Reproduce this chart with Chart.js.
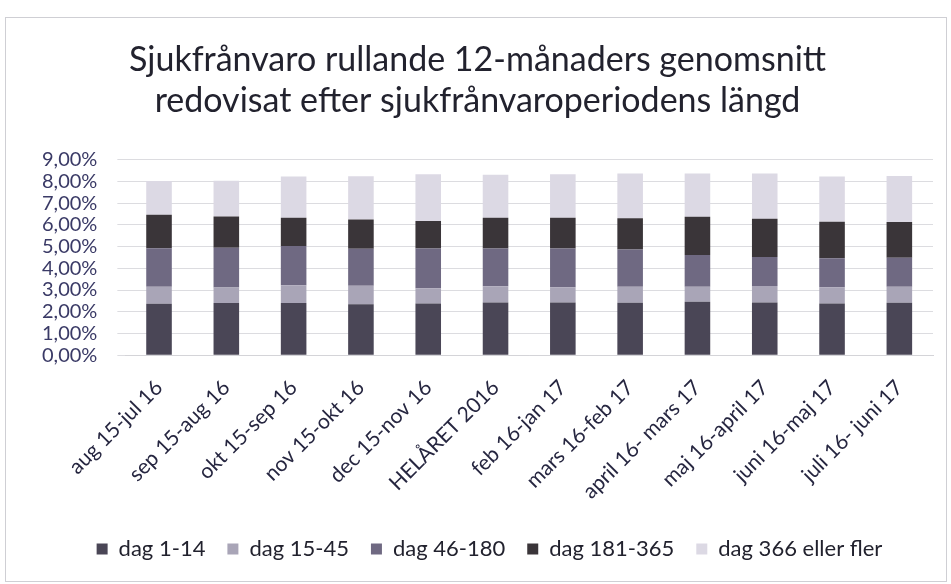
<!DOCTYPE html>
<html>
<head>
<meta charset="utf-8">
<script src="https://cdn.jsdelivr.net/npm/chart.js@4/dist/chart.umd.min.js"></script>
<style>
  html, body { margin: 0; padding: 0; background: #fff; }
  #wrap { position: relative; width: 951px; height: 584px; }
  #frame { position: absolute; left: 5px; top: 17px; width: 940px; height: 563px; border: 1px solid #cfcfd4; pointer-events: none; }
</style>
</head>
<body>
<div id="wrap">
  <canvas id="chart" width="951" height="584"></canvas>
  <div id="frame"></div>
</div>
<script>
// Perioder (rullande 12 månader)
const perioder = ['aug 15-jul 16', 'sep 15-aug 16', 'okt 15-sep 16', 'nov 15-okt 16', 'dec 15-nov 16',
    'HELÅRET 2016', 'feb 16-jan 17', 'mars 16-feb 17', 'april 16- mars 17', 'maj 16-april 17',
    'juni 16-maj 17', 'juli 16- juni 17'];

// Sjukfrånvaro i procent per period och längd
const dag1_14    = [2.37, 2.40, 2.40, 2.35, 2.38, 2.43, 2.43, 2.41, 2.46, 2.43, 2.38, 2.41];
const dag15_45   = [0.78, 0.72, 0.82, 0.85, 0.70, 0.74, 0.70, 0.74, 0.69, 0.75, 0.75, 0.74];
const dag46_180  = [1.77, 1.83, 1.80, 1.70, 1.83, 1.74, 1.78, 1.71, 1.46, 1.34, 1.33, 1.34];
const dag181_365 = [1.54, 1.43, 1.30, 1.35, 1.27, 1.41, 1.41, 1.44, 1.76, 1.76, 1.68, 1.64];
const dag366     = [1.56, 1.65, 1.90, 1.98, 2.15, 1.98, 2.01, 2.06, 1.99, 2.08, 2.08, 2.11];

const yTicks = [0, 1, 2, 3, 4, 5, 6, 7, 8, 9];

const fontFam = 'Lato, "Open Sans", sans-serif';

const ctx = document.getElementById('chart').getContext('2d');
const chart = new Chart(ctx, {
    type: 'bar',
    data: {
        labels: perioder,
        datasets: [
            { label: 'dag 1-14', data: dag1_14, backgroundColor: '#4a4656' },
            { label: 'dag 15-45', data: dag15_45, backgroundColor: '#a9a5b7' },
            { label: 'dag 46-180', data: dag46_180, backgroundColor: '#6f6982' },
            { label: 'dag 181-365', data: dag181_365, backgroundColor: '#3a3539' },
            { label: 'dag 366 eller fler', data: dag366, backgroundColor: '#dcd9e4' }
        ]
    },
    options: {
        responsive: false,
        animation: false,
        layout: { padding: { left: 22, right: 18, top: 40, bottom: 6 } },
        datasets: { bar: { barPercentage: 0.38, categoryPercentage: 1.0 } },
        scales: {
            x: {
                stacked: true,
                grid: { display: false },
                border: { color: '#d4d4d8' },
                ticks: {
                    color: '#262640',
                    font: { family: fontFam, size: 21 },
                    minRotation: 45,
                    maxRotation: 45,
                    padding: 12
                }
            },
            y: {
                stacked: true,
                min: 0,
                max: 9,
                afterBuildTicks: (axis) => { axis.ticks = yTicks.map(v => ({ value: v })); },
                grid: { color: '#dcdce0' },
                border: { display: false },
                ticks: {
                    autoSkip: false,
                    color: '#3a3a66',
                    font: { family: fontFam, size: 20, lineHeight: 1.0 },
                    padding: 20,
                    callback: (v) => v.toFixed(2).replace('.', ',') + '%'
                }
            }
        },
        plugins: {
            title: {
                display: true,
                text: ['Sjukfrånvaro rullande 12-månaders genomsnitt', 'redovisat efter sjukfrånvaroperiodens längd'],
                color: '#22222e',
                font: { family: fontFam, size: 34, weight: 'normal', lineHeight: 1.2 },
                padding: { top: 0, bottom: 38 }
            },
            legend: {
                position: 'bottom',
                labels: {
                    color: '#22222e',
                    font: { family: fontFam, size: 22 },
                    boxWidth: 11,
                    boxHeight: 11,
                    padding: 22
                }
            },
            tooltip: { enabled: false }
        }
    },
    plugins: [{
        // lite extra luft ovanför förklaringen, och flytta den något åt höger
        id: 'legendGap',
        beforeInit(c) {
            const lg = c.legend;
            const fit = lg.fit;
            lg.fit = function () {
                fit.call(lg);
                lg.height += 8;
            };
            const draw = lg.draw;
            lg.draw = function () {
                c.ctx.save();
                c.ctx.translate(12, 0);
                draw.call(lg);
                c.ctx.restore();
            };
        }
    }]
});
</script>
</body>
</html>
